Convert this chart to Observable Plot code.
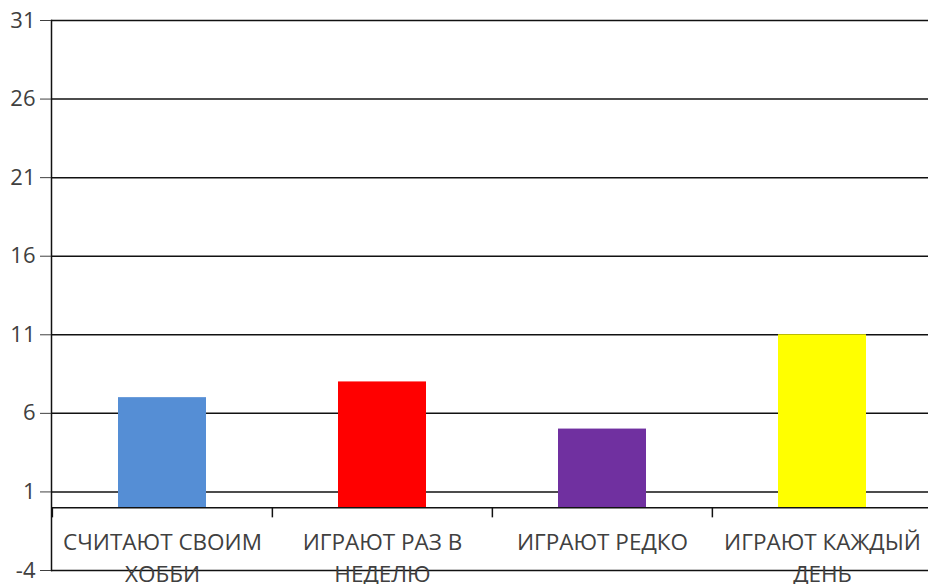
<!DOCTYPE html>
<html><head><meta charset="utf-8">
<script src="https://cdn.jsdelivr.net/npm/d3@7"></script>
<script src="https://cdn.jsdelivr.net/npm/@observablehq/plot@0.6"></script>
<style>body{margin:0;background:#fff;font-family:"Open Sans",sans-serif}</style>
</head><body><div id="chart"></div>
<script>
const categories = ["СЧИТАЮТ СВОИМ ХОББИ", "ИГРАЮТ РАЗ В НЕДЕЛЮ", "ИГРАЮТ РЕДКО", "ИГРАЮТ КАЖДЫЙ ДЕНЬ"];
const labels = ["СЧИТАЮТ СВОИМ\nХОББИ", "ИГРАЮТ РАЗ В\nНЕДЕЛЮ", "ИГРАЮТ РЕДКО", "ИГРАЮТ КАЖДЫЙ\nДЕНЬ"];
const values = [7, 8, 5, 11];
const colors = ["#558ed5", "#ff0000", "#7030a0", "#ffff00"];
const yTicks = [-4, 1, 6, 11, 16, 21, 26, 31];

const data = categories.map((c, i) => ({cat: c, label: labels[i], value: values[i], color: colors[i]}));

const W = 928, H = 584, mL = 51, mR = -4, mT = 20, mB = 14;
const step = (W - mR - mL) / categories.length;

const chart = Plot.plot({
  width: W, height: H,
  marginLeft: mL, marginRight: mR, marginTop: mT, marginBottom: mB,
  style: {fontFamily: "Open Sans, sans-serif", overflow: "visible"},
  x: {domain: categories, paddingInner: 0.6, paddingOuter: 0.3, axis: null},
  y: {domain: [-4, 31], axis: null},
  color: {type: "identity"},
  marks: [
    Plot.ruleY(yTicks, {stroke: "#111", strokeWidth: 1.5}),
    Plot.barY(data, {x: "cat", y: "value", fill: "color"}),
    Plot.ruleY([0], {stroke: "#111", strokeWidth: 1.5}),
    Plot.ruleX(categories, {x: d => d, y1: 0, y2: -0.65, dx: -step / 2, stroke: "#111", strokeWidth: 1.5}),
    Plot.frame({anchor: "left", stroke: "#111", strokeWidth: 1.5}),
    Plot.axisY({ticks: yTicks, label: null, tickSize: 11, tickPadding: 5, fontSize: 22, color: "#404040", tickFormat: d => String(d)}),
    Plot.text(data, {x: "cat", y: 0, text: "label", lineAnchor: "top", dy: 19, lineHeight: 1.43, fontSize: 22.5, fill: "#404040"})
  ]
});
document.getElementById("chart").appendChild(chart);
</script>
</body></html>
